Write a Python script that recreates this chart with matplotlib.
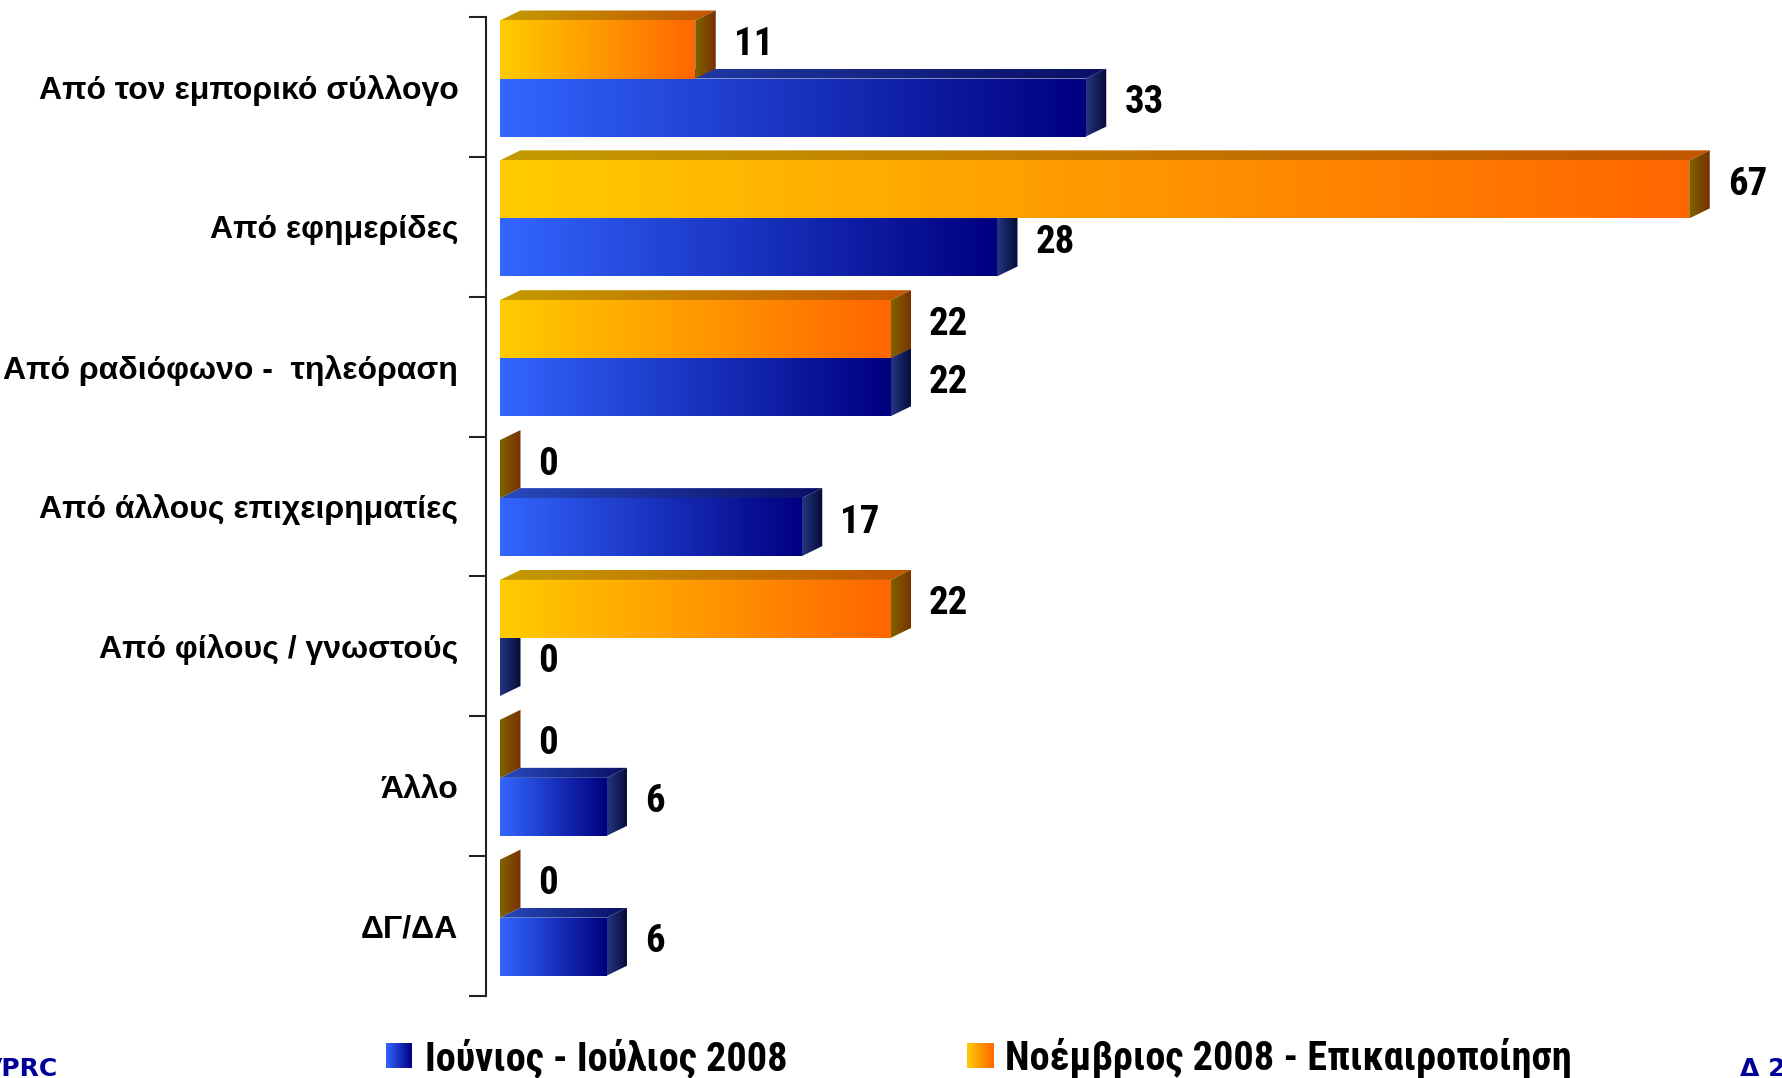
import numpy as np
import matplotlib
matplotlib.use('Agg')
import matplotlib.pyplot as plt
from matplotlib.patches import Polygon

# ---------------- data ----------------
categories = ['Από τον εμπορικό σύλλογο', 'Από εφημερίδες', 'Από ραδιόφωνο -  τηλεόραση',
              'Από άλλους επιχειρηματίες', 'Από φίλους / γνωστούς', 'Άλλο', 'ΔΓ/ΔΑ']
june_july = [33, 28, 22, 17, 0, 6, 6]
november = [11, 67, 22, 0, 22, 0, 0]
series_names = ['Ιούνιος - Ιούλιος 2008', 'Νοέμβριος 2008 - Επικαιροποίηση']

# ---------------- style ----------------
NARROW = ['Roboto Condensed', 'Open Sans Condensed', 'DejaVu Sans']
ARIAL = ['Arimo', 'Liberation Sans', 'DejaVu Sans']
BLUE = [((51, 102, 255), (0, 0, 128)),      # front
        ((40, 75, 190), (10, 15, 100)),     # top
        ((35, 55, 130), (5, 10, 55))]       # side
YELLOW = [((255, 204, 0), (255, 102, 0)),
          ((195, 155, 0), (195, 85, 0)),
          ((128, 100, 0), (120, 48, 0))]

W, H = 1782, 1078
fig = plt.figure(figsize=(W / 100, H / 100), dpi=100)
fig.patch.set_facecolor('white')

PXU = 17.75          # pixels per value unit
AX_L, AX_T, AX_B = 500, 17, 996
n = len(categories)
cat_px = (AX_B - AX_T) / n
# axes extends to the top of the figure so the 3D top faces are not clipped
ax = fig.add_axes([AX_L / W, (H - AX_B) / H, (W - AX_L) / W, AX_B / H])
xmax = (W - AX_L) / PXU
y_top_lim = -0.5 - AX_T / cat_px
bar_h = 0.415
dx = 20.5 / PXU
dy = 10.0 / cat_px


def grad(verts, x0, x1, c0, c1, z):
    poly = Polygon(verts, closed=True, facecolor='none', edgecolor='none')
    ax.add_patch(poly)
    t = np.linspace(0, 1, 256)[:, None]
    img = ((1 - t) * np.array(c0) + t * np.array(c1)) / 255.0
    img = img[None, :, :]
    ys = [v[1] for v in verts]
    im = ax.imshow(img, extent=(x0, x1, max(ys), min(ys)), aspect='auto',
                   interpolation='bilinear', zorder=z)
    im.set_clip_path(poly)


def bar(v, yt, yb, cols, z):
    front, top, side = cols
    if v > 0:
        grad([(0, yt), (v, yt), (v, yb), (0, yb)], 0, v, *front, z)
        grad([(0, yt), (v, yt), (v + dx, yt - dy), (dx, yt - dy)], 0, v + dx, *top, z)
    grad([(v, yt), (v + dx, yt - dy), (v + dx, yb - dy), (v, yb)], v, v + dx, *side, z)
    ax.text(v + dx + 18 / PXU, (yt + yb) / 2 - dy / 2, str(v), ha='left', va='center',
            fontsize=28, fontweight='bold', family=NARROW, color='black', zorder=10,
            clip_on=False)


for i in range(n):
    yt_y = i - 0.5 + 0.025
    yb_y = yt_y + bar_h
    yb_b = yb_y + bar_h
    bar(june_july[i], yb_y, yb_b, BLUE, 2)
    bar(november[i], yt_y, yb_y, YELLOW, 3)

ax.set_xlim(0, xmax)
ax.set_ylim(n - 0.5, y_top_lim)
for s in ['top', 'right', 'bottom']:
    ax.spines[s].set_visible(False)
ax.spines['left'].set_position(('outward', 10))
ax.spines['left'].set_bounds(-0.5, n - 0.5)
ax.spines['left'].set_color('#222222')
ax.spines['left'].set_linewidth(1.5)
ax.set_xticks([])
ax.set_yticks(np.arange(-0.5, n, 1.0))
ax.set_yticklabels([])
ax.tick_params(axis='y', which='major', length=12, width=1.5, color='#222222', direction='out')
ax.set_yticks(np.arange(n), minor=True)
ax.set_yticklabels(categories, minor=True, fontsize=23, fontweight='bold', family=ARIAL)
ax.tick_params(axis='y', which='minor', length=0, pad=20)
ax.patch.set_alpha(0)

# ---------------- legend ----------------
def legend_box(x_px, cols):
    lax = fig.add_axes([x_px / W, (H - 1068) / H, 26 / W, 25 / H])
    t = np.linspace(0, 1, 64)[:, None]
    c0, c1 = cols[0]
    img = ((1 - t) * np.array(c0) + t * np.array(c1)) / 255.0
    lax.imshow(img[None, :, :], aspect='auto', interpolation='bilinear')
    lax.set_axis_off()

legend_box(386, BLUE)
legend_box(967, YELLOW)
fig.text(425 / W, 1 - 1058 / H, series_names[0], ha='left', va='center', fontsize=29,
         fontweight='bold', family=NARROW)
fig.text(1005 / W, 1 - 1058 / H, series_names[1], ha='left', va='center', fontsize=29,
         fontweight='bold', family=NARROW)

# ---------------- footer ----------------
fig.text(58 / W, 2 / H, 'VPRC', ha='right', va='baseline', fontsize=18,
         fontweight='bold', color='#000099')
fig.text(1740 / W, 2 / H, 'Δ 21', ha='left', va='baseline', fontsize=18,
         fontweight='bold', color='#000099')

fig.savefig('out.png', dpi=100, facecolor='white')
